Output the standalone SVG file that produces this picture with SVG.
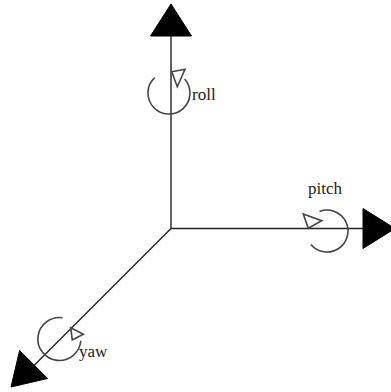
<svg xmlns="http://www.w3.org/2000/svg" width="391" height="392" viewBox="0 0 391 392">
<style>
.axis{stroke:#222;stroke-width:1.4;fill:none}
.head{fill:#000;stroke:#000;stroke-width:1}
.rot{stroke:#444;stroke-width:1.6;fill:none}
.tip{fill:#fff;stroke:#444;stroke-width:1.6;stroke-linejoin:miter}
.lbl{font-family:"Liberation Serif","Times New Roman",serif;font-size:17px;fill:#222}
</style>
<rect width="391" height="392" fill="#fff"/>
<g id="connectors">
<line class="axis" x1="171" y1="228.5" x2="171" y2="36"/>
<polygon class="head" points="171,4 191.5,36 150.5,36"/>
<line class="axis" x1="171" y1="228.5" x2="363" y2="228.5"/>
<polygon class="head" points="395,228.5 363,208.5 363,248.5"/>
<line class="axis" x1="171" y1="228.5" x2="34" y2="365.5"/>
<polygon class="head" points="11,387 19.6,350.5 47.6,378.5"/>
</g>
<g id="roll">
<path class="rot" d="M154.7,77.6 A21,21 0 1 0 184.6,79"/>
<polygon class="tip" points="171.7,71.7 185,69.3 177.3,86.7"/>
<text class="lbl" x="192" y="100">roll</text>
</g>
<g id="pitch">
<path class="rot" d="M310.9,244.5 A21,21 0 1 0 319.5,211.4"/>
<polygon class="tip" points="303.3,214 321.7,220.7 308.3,228.3"/>
<text class="lbl" x="325" y="194" text-anchor="middle">pitch</text>
</g>
<g id="yaw">
<path class="rot" d="M62.5,317.7 A21.5,21.5 0 1 0 80.8,340.8"/>
<polygon class="tip" points="70.7,327.7 83.3,334.3 72.3,340"/>
<text class="lbl" x="79" y="357">yaw</text>
</g>
</svg>
